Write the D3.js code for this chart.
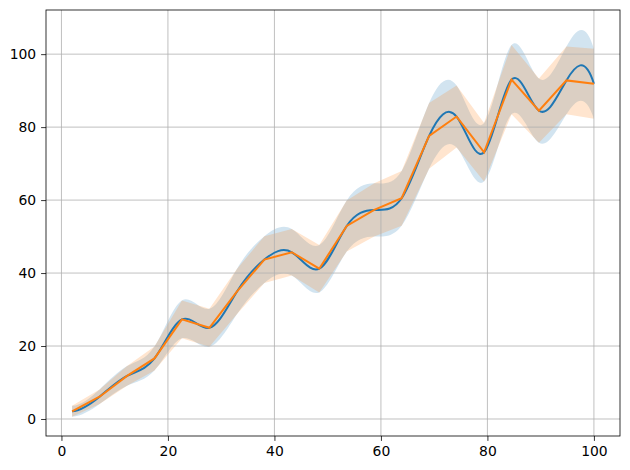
<!DOCTYPE html>
<html>
<head>
<meta charset="utf-8">
<script src="https://cdn.jsdelivr.net/npm/d3@7"></script>
<style>
  body { margin: 0; background: #fff; }
  svg { display: block; font-family: "DejaVu Sans", sans-serif; }
</style>
</head>
<body>
<svg id="chart" width="630" height="470"></svg>
<script>
// sample positions (x) shared by both series
const xs = [2, 7.16, 12.32, 17.47, 22.63, 27.79, 32.95, 38.11, 43.26, 48.42,
            53.58, 58.74, 63.89, 69.05, 74.21, 79.37, 84.53, 89.68, 94.84, 100];
// mean values
const ys = [2.1, 6.1, 11.8, 16.6, 27.3, 25.0, 34.9, 43.7, 45.7, 41.2,
            52.9, 57.3, 60.5, 77.6, 82.9, 73.1, 93.0, 84.5, 92.8, 91.9];
// half width of the shaded band
const err = [1.5, 2.0, 2.7, 3.3, 5.2, 5.2, 6.2, 6.4, 6.4, 6.5,
             7.0, 7.3, 7.5, 9.0, 8.5, 8.0, 9.5, 8.8, 9.3, 9.6];
const xTicks = [0, 20, 40, 60, 80, 100];
const yTicks = [0, 20, 40, 60, 80, 100];

const data = xs.map((x, i) => ({ x: x, y: ys[i], lo: ys[i] - err[i], hi: ys[i] + err[i] }));

// cubic spline curve with not-a-knot ends (like scipy's default interpolating spline)
function NotAKnot(context) { this._context = context; }
NotAKnot.prototype = {
  areaStart() { this._line = 0; },
  areaEnd() { this._line = NaN; },
  lineStart() { this._x = []; this._y = []; },
  point(x, y) { this._x.push(+x); this._y.push(+y); },
  lineEnd() {
    const x = this._x, y = this._y, n = x.length, ctx = this._context;
    if (n) {
      this._line ? ctx.lineTo(x[0], y[0]) : ctx.moveTo(x[0], y[0]);
      if (n < 4) {
        for (let i = 1; i < n; i++) ctx.lineTo(x[i], y[i]);
      } else {
        const h = [], s = [];
        for (let i = 0; i < n - 1; i++) { h.push(x[i + 1] - x[i]); s.push((y[i + 1] - y[i]) / h[i]); }
        const a = new Array(n).fill(0), b = new Array(n).fill(0), c = new Array(n).fill(0), r = new Array(n).fill(0);
        let d = h[0] + h[1];
        b[0] = h[1]; c[0] = d;
        r[0] = ((h[0] + 2 * d) * h[1] * s[0] + h[0] * h[0] * s[1]) / d;
        for (let i = 1; i < n - 1; i++) {
          a[i] = h[i]; b[i] = 2 * (h[i - 1] + h[i]); c[i] = h[i - 1];
          r[i] = 3 * (h[i] * s[i - 1] + h[i - 1] * s[i]);
        }
        d = h[n - 3] + h[n - 2];
        a[n - 1] = d; b[n - 1] = h[n - 3];
        r[n - 1] = (h[n - 2] * h[n - 2] * s[n - 3] + (2 * d + h[n - 2]) * h[n - 3] * s[n - 2]) / d;
        // Thomas algorithm
        for (let i = 1; i < n; i++) {
          const w = a[i] / b[i - 1];
          b[i] -= w * c[i - 1];
          r[i] -= w * r[i - 1];
        }
        const m = new Array(n);
        m[n - 1] = r[n - 1] / b[n - 1];
        for (let i = n - 2; i >= 0; i--) m[i] = (r[i] - c[i] * m[i + 1]) / b[i];
        for (let i = 0; i < n - 1; i++) {
          const t = h[i] / 3;
          ctx.bezierCurveTo(x[i] + t, y[i] + m[i] * t, x[i + 1] - t, y[i + 1] - m[i + 1] * t, x[i + 1], y[i + 1]);
        }
      }
    }
    if (this._line || (this._line !== 0 && n === 1)) ctx.closePath();
    this._line = 1 - this._line;
    this._x = this._y = null;
  }
};
const curveNotAKnot = context => new NotAKnot(context);

const svg = d3.select('#chart');
const margin = { left: 46, top: 10, right: 10, bottom: 34 };
const width = +svg.attr('width') - margin.left - margin.right;
const height = +svg.attr('height') - margin.top - margin.bottom;

const g = svg.append('g').attr('transform', `translate(${margin.left},${margin.top})`);

const xScale = d3.scaleLinear().domain([-2.9, 104.9]).range([0, width]);
const yScale = d3.scaleLinear().domain([-4.66, 112.1]).range([height, 0]);

const blue = '#1f77b4', orange = '#ff7f0e';

// bands first (under grid and lines)
const bandSmooth = d3.area().curve(curveNotAKnot)
  .x(d => xScale(d.x)).y0(d => yScale(d.lo)).y1(d => yScale(d.hi));
const bandLinear = d3.area()
  .x(d => xScale(d.x)).y0(d => yScale(d.lo)).y1(d => yScale(d.hi));

g.append('path').datum(data).attr('d', bandSmooth).attr('fill', blue).attr('fill-opacity', 0.2);
g.append('path').datum(data).attr('d', bandLinear).attr('fill', orange).attr('fill-opacity', 0.2);

// grid
g.append('g').selectAll('line').data(xTicks).join('line')
  .attr('x1', d => xScale(d)).attr('x2', d => xScale(d))
  .attr('y1', 0).attr('y2', height)
  .attr('stroke', '#b0b0b0').attr('stroke-width', 0.8);
g.append('g').selectAll('line').data(yTicks).join('line')
  .attr('y1', d => yScale(d)).attr('y2', d => yScale(d))
  .attr('x1', 0).attr('x2', width)
  .attr('stroke', '#b0b0b0').attr('stroke-width', 0.8);

// lines
const smoothLine = d3.line().curve(curveNotAKnot).x(d => xScale(d.x)).y(d => yScale(d.y));
const straightLine = d3.line().x(d => xScale(d.x)).y(d => yScale(d.y));

g.append('path').datum(data).attr('d', smoothLine)
  .attr('fill', 'none').attr('stroke', blue).attr('stroke-width', 2);
g.append('path').datum(data).attr('d', straightLine)
  .attr('fill', 'none').attr('stroke', orange).attr('stroke-width', 2);

// axes
const xAxis = d3.axisBottom(xScale).tickValues(xTicks).tickSize(4.9).tickPadding(4.9);
const yAxis = d3.axisLeft(yScale).tickValues(yTicks).tickSize(4.9).tickPadding(4.9);

const gx = g.append('g').attr('transform', `translate(0,${height})`).call(xAxis);
const gy = g.append('g').call(yAxis);
[gx, gy].forEach(a => {
  a.select('.domain').remove();
  a.selectAll('line').attr('stroke', '#000').attr('stroke-width', 0.8);
  a.selectAll('text').attr('fill', '#000').style('font-size', '13.9px')
    .style('font-family', '"DejaVu Sans", sans-serif');
});

// frame
g.append('rect').attr('width', width).attr('height', height)
  .attr('fill', 'none').attr('stroke', '#000').attr('stroke-width', 0.8);
</script>
</body>
</html>
